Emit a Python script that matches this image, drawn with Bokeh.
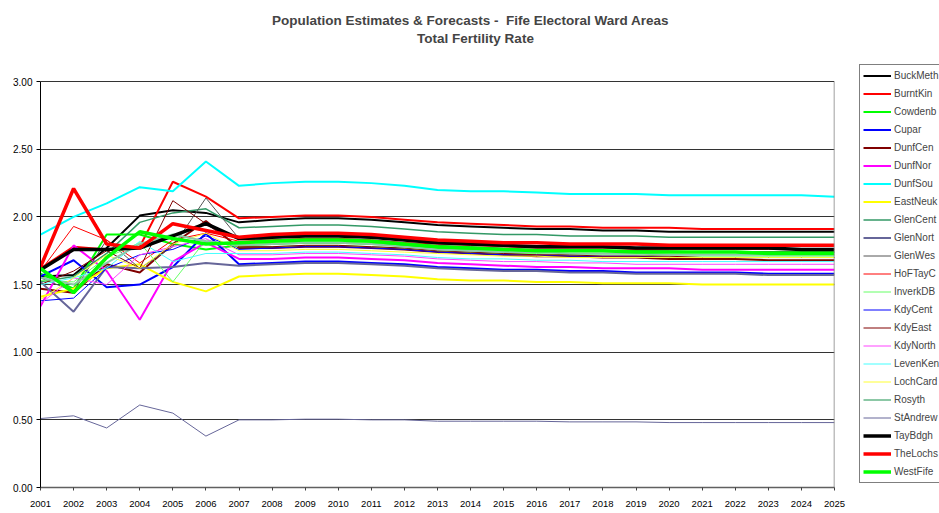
from bokeh.plotting import figure
from bokeh.layouts import row
from bokeh.embed import file_html
from bokeh.resources import INLINE
from bokeh.models import (Range1d, FixedTicker, NumeralTickFormatter, Legend,
                          LegendItem, Label)

# Fife electoral wards, total fertility rate 2001-2025
years = list(range(2001, 2026))

# legend names as far as they can be read in the (cropped) original legend
ward_names = ["BuckMeth", "BurntKin", "Cowdenb", "Cupar", "DunfCen", "DunfNor",
              "DunfSou", "EastNeuk", "GlenCent", "GlenNort", "GlenWes", "HoFTayC",
              "InverkDB", "KdyCent", "KdyEast", "KdyNorth", "LevenKen", "LochCard",
              "Rosyth", "StAndrew", "TayBdgh", "TheLochs", "WestFife"]

buck_meth = [1.56, 1.57, 1.77, 2.01, 2.05, 2.03, 1.96, 1.98, 1.99, 1.99, 1.98, 1.96, 1.94,
             1.93, 1.92, 1.91, 1.91, 1.90, 1.90, 1.89, 1.89, 1.89, 1.89, 1.89, 1.89]
burnt_kin = [1.62, 1.78, 1.76, 1.78, 2.26, 2.15, 1.99, 2.00, 2.01, 2.01, 2.00, 1.98, 1.96,
             1.95, 1.94, 1.93, 1.93, 1.92, 1.92, 1.92, 1.91, 1.91, 1.91, 1.91, 1.91]
cowdenbeath = [1.58, 1.47, 1.87, 1.87, 1.80, 1.76, 1.79, 1.80, 1.81, 1.81, 1.80, 1.79, 1.77,
               1.76, 1.76, 1.75, 1.75, 1.75, 1.75, 1.74, 1.74, 1.74, 1.74, 1.74, 1.74]
cupar = [1.56, 1.68, 1.48, 1.50, 1.63, 1.88, 1.65, 1.66, 1.67, 1.67, 1.66, 1.65, 1.63,
         1.62, 1.61, 1.61, 1.60, 1.60, 1.59, 1.59, 1.59, 1.59, 1.58, 1.58, 1.58]
dunf_cen = [1.47, 1.44, 1.65, 1.59, 1.80, 1.97, 1.77, 1.77, 1.78, 1.78, 1.77, 1.76, 1.74,
            1.73, 1.72, 1.71, 1.71, 1.70, 1.70, 1.69, 1.69, 1.69, 1.68, 1.68, 1.68]
dunf_nor = [1.34, 1.79, 1.60, 1.24, 1.67, 1.81, 1.69, 1.69, 1.70, 1.70, 1.69, 1.68, 1.66,
            1.65, 1.64, 1.63, 1.63, 1.62, 1.62, 1.62, 1.61, 1.61, 1.61, 1.61, 1.61]
dunf_sou = [1.87, 2.00, 2.10, 2.22, 2.19, 2.41, 2.23, 2.25, 2.26, 2.26, 2.25, 2.23, 2.20,
            2.19, 2.19, 2.18, 2.17, 2.17, 2.17, 2.16, 2.16, 2.16, 2.16, 2.16, 2.15]
east_neuk = [1.41, 1.47, 1.62, 1.65, 1.52, 1.45, 1.56, 1.57, 1.58, 1.58, 1.57, 1.56, 1.54,
             1.53, 1.53, 1.52, 1.52, 1.51, 1.51, 1.51, 1.50, 1.50, 1.50, 1.50, 1.50]
glen_cent = [1.52, 1.56, 1.73, 1.96, 2.03, 2.06, 1.92, 1.93, 1.94, 1.94, 1.93, 1.91, 1.89,
             1.88, 1.87, 1.87, 1.86, 1.86, 1.86, 1.85, 1.85, 1.85, 1.85, 1.85, 1.85]
glen_north = [1.52, 1.30, 1.63, 1.62, 1.63, 1.66, 1.64, 1.65, 1.66, 1.66, 1.65, 1.64, 1.62,
              1.61, 1.60, 1.60, 1.59, 1.59, 1.58, 1.58, 1.58, 1.58, 1.57, 1.57, 1.57]
glen_west = [1.55, 1.45, 1.83, 1.62, 1.78, 2.14, 1.84, 1.83, 1.84, 1.84, 1.83, 1.81, 1.79,
             1.78, 1.77, 1.76, 1.76, 1.75, 1.75, 1.75, 1.74, 1.74, 1.74, 1.74, 1.74]
hof_tay = [1.60, 1.93, 1.83, 1.66, 1.83, 1.88, 1.82, 1.83, 1.84, 1.84, 1.83, 1.81, 1.80,
           1.79, 1.78, 1.77, 1.77, 1.77, 1.76, 1.76, 1.76, 1.76, 1.76, 1.76, 1.76]
inverk_db = [1.53, 1.52, 1.70, 1.81, 1.52, 1.83, 1.78, 1.78, 1.79, 1.79, 1.78, 1.77, 1.75,
             1.74, 1.73, 1.73, 1.72, 1.72, 1.72, 1.71, 1.71, 1.71, 1.71, 1.71, 1.71]
kdy_cent = [1.38, 1.40, 1.62, 1.72, 1.76, 1.86, 1.76, 1.77, 1.78, 1.78, 1.77, 1.76, 1.74,
            1.73, 1.72, 1.72, 1.71, 1.71, 1.71, 1.70, 1.70, 1.70, 1.70, 1.70, 1.70]
kdy_east = [1.50, 1.60, 1.75, 1.62, 2.12, 1.95, 1.78, 1.78, 1.79, 1.79, 1.78, 1.77, 1.75,
            1.74, 1.73, 1.72, 1.72, 1.71, 1.71, 1.71, 1.70, 1.70, 1.70, 1.70, 1.70]
kdy_north = [1.36, 1.55, 1.50, 1.72, 1.78, 1.84, 1.72, 1.72, 1.73, 1.73, 1.72, 1.71, 1.69,
             1.68, 1.67, 1.67, 1.66, 1.66, 1.65, 1.65, 1.65, 1.65, 1.65, 1.65, 1.65]
leven_ken = [1.50, 1.55, 1.62, 1.82, 1.67, 1.73, 1.73, 1.73, 1.74, 1.74, 1.73, 1.72, 1.70,
             1.69, 1.69, 1.68, 1.68, 1.67, 1.67, 1.67, 1.67, 1.67, 1.67, 1.67, 1.67]
loch_card = [1.39, 1.55, 1.72, 1.62, 1.80, 1.88, 1.75, 1.75, 1.76, 1.76, 1.75, 1.74, 1.73,
             1.72, 1.71, 1.71, 1.70, 1.70, 1.70, 1.70, 1.70, 1.70, 1.70, 1.70, 1.70]
rosyth = [1.55, 1.50, 1.66, 1.80, 1.87, 1.82, 1.79, 1.80, 1.81, 1.81, 1.80, 1.78, 1.76,
          1.75, 1.74, 1.74, 1.73, 1.73, 1.73, 1.72, 1.72, 1.72, 1.72, 1.72, 1.72]
st_andrews = [0.51, 0.53, 0.44, 0.61, 0.55, 0.38, 0.50, 0.50, 0.505, 0.505, 0.50, 0.50, 0.49,
              0.49, 0.49, 0.49, 0.485, 0.485, 0.485, 0.48, 0.48, 0.48, 0.48, 0.48, 0.48]
tay_bdgh = [1.61, 1.76, 1.76, 1.77, 1.86, 1.95, 1.84, 1.85, 1.86, 1.86, 1.85, 1.83, 1.81,
            1.80, 1.79, 1.78, 1.78, 1.78, 1.77, 1.77, 1.77, 1.77, 1.77, 1.76, 1.76]
the_lochs = [1.63, 2.21, 1.80, 1.77, 1.95, 1.90, 1.85, 1.87, 1.88, 1.88, 1.87, 1.85, 1.83,
             1.82, 1.81, 1.81, 1.80, 1.80, 1.80, 1.79, 1.79, 1.79, 1.79, 1.79, 1.79]
west_fife = [1.62, 1.44, 1.70, 1.89, 1.84, 1.80, 1.81, 1.82, 1.83, 1.83, 1.82, 1.80, 1.78,
             1.77, 1.76, 1.75, 1.75, 1.75, 1.74, 1.74, 1.74, 1.74, 1.73, 1.73, 1.73]

ward_values = [buck_meth, burnt_kin, cowdenbeath, cupar, dunf_cen, dunf_nor, dunf_sou,
               east_neuk, glen_cent, glen_north, glen_west, hof_tay, inverk_db, kdy_cent,
               kdy_east, kdy_north, leven_ken, loch_card, rosyth, st_andrews, tay_bdgh,
               the_lochs, west_fife]

y_ticks = [0, 0.5, 1.0, 1.5, 2.0, 2.5, 3.0]

# Excel-like line colours and widths
colors = ["#000000", "#ff0000", "#00ff00", "#0000ff", "#800000", "#ff00ff", "#00ffff",
          "#ffff00", "#339966", "#666699", "#555555", "#ff0000", "#66ff66", "#0000ff",
          "#800000", "#ff44ff", "#44ffff", "#ffff33", "#8cc8a6", "#666699", "#000000",
          "#ff0000", "#00ff00"]
widths = [2, 2, 2, 2, 2, 2, 2, 2, 1.5, 2, 1, 1, 1, 1, 1, 1, 1, 1, 2, 1, 3.5, 3.5, 3.5]

FONT = "Liberation Sans"

# main chart: the frame runs up to the top of the canvas so the titles can sit inside it
fig = figure(width=858, height=513, output_backend="svg", toolbar_location=None,
             x_range=Range1d(2001, 2025), y_range=Range1d(0, 3.6),
             min_border_left=40, min_border_right=24, min_border_top=0, min_border_bottom=26)
fig.outline_line_color = None
fig.background_fill_color = "white"
fig.border_fill_color = "white"

for vals, col, w in zip(ward_values, colors, widths):
    fig.line(years, vals, line_color=col, line_width=w)

# right-hand border of the plot area
fig.segment(x0=[years[-1]], y0=[y_ticks[0]], x1=[years[-1]], y1=[y_ticks[-1]],
            line_color="#808080", line_width=1.5)

fig.xaxis.ticker = FixedTicker(ticks=years)
fig.xaxis.major_label_text_font = FONT
fig.xaxis.major_label_text_font_size = "9.5px"
fig.xaxis.major_label_text_color = "black"
fig.xaxis.axis_line_color = "#606060"
fig.xaxis.axis_line_width = 1.5
fig.xaxis.major_tick_line_color = "#404040"
fig.xaxis.major_tick_out = 3
fig.xaxis.major_tick_in = 0
fig.xaxis.minor_tick_line_color = None
fig.xaxis.major_label_standoff = 10

fig.yaxis.ticker = FixedTicker(ticks=y_ticks)
fig.yaxis.bounds = (y_ticks[0], y_ticks[-1])
fig.yaxis.formatter = NumeralTickFormatter(format="0.00")
fig.yaxis.major_label_text_font = FONT
fig.yaxis.major_label_text_font_size = "10px"
fig.yaxis.major_label_text_color = "black"
fig.yaxis.axis_line_color = "black"
fig.yaxis.major_tick_line_color = "black"
fig.yaxis.major_tick_out = 4
fig.yaxis.major_tick_in = 0
fig.yaxis.minor_tick_line_color = None
fig.yaxis.major_label_standoff = 4

fig.xgrid.grid_line_color = None
fig.ygrid.grid_line_color = "#333333"
fig.ygrid.grid_line_width = 1

fig.add_layout(Label(x=430, y=467, x_units="screen", y_units="screen",
                     text="Population Estimates & Forecasts -\u00a0 Fife Electoral Ward Areas",
                     text_font=FONT, text_font_size="13.5px", text_font_style="bold",
                     text_align="center", text_baseline="middle"))
fig.add_layout(Label(x=435, y=449, x_units="screen", y_units="screen",
                     text="Total Fertility Rate",
                     text_font=FONT, text_font_size="13.5px", text_font_style="bold",
                     text_align="center", text_baseline="middle"))

# legend strip to the right (its frame is aligned with the chart frame)
leg = figure(width=81, height=513, output_backend="svg", toolbar_location=None,
             x_range=Range1d(0, 1), y_range=Range1d(0, 1),
             x_axis_location=None, y_axis_location=None,
             min_border_left=0, min_border_right=0, min_border_top=0, min_border_bottom=0)
leg.outline_line_color = None
leg.grid.grid_line_color = None
leg.background_fill_color = "white"
leg.border_fill_color = "white"

items = []
for name, vals, col, w in zip(ward_names, ward_values, colors, widths):
    r = leg.line(years, vals, line_color=col, line_width=w)
    items.append(LegendItem(label=name, renderers=[r]))

legend = Legend(items=items, location=(1, 4))
legend.border_line_color = "black"
legend.border_line_width = 1
legend.background_fill_color = "white"
legend.background_fill_alpha = 1
legend.label_text_font = FONT
legend.label_text_font_size = "10px"
legend.glyph_width = 28
legend.glyph_height = 15
legend.label_height = 15
legend.spacing = 3
legend.padding = 3
legend.margin = 0
legend.label_standoff = 3
leg.add_layout(legend)

p = row(fig, leg)

open("out.html", "w").write(file_html(p, INLINE))
